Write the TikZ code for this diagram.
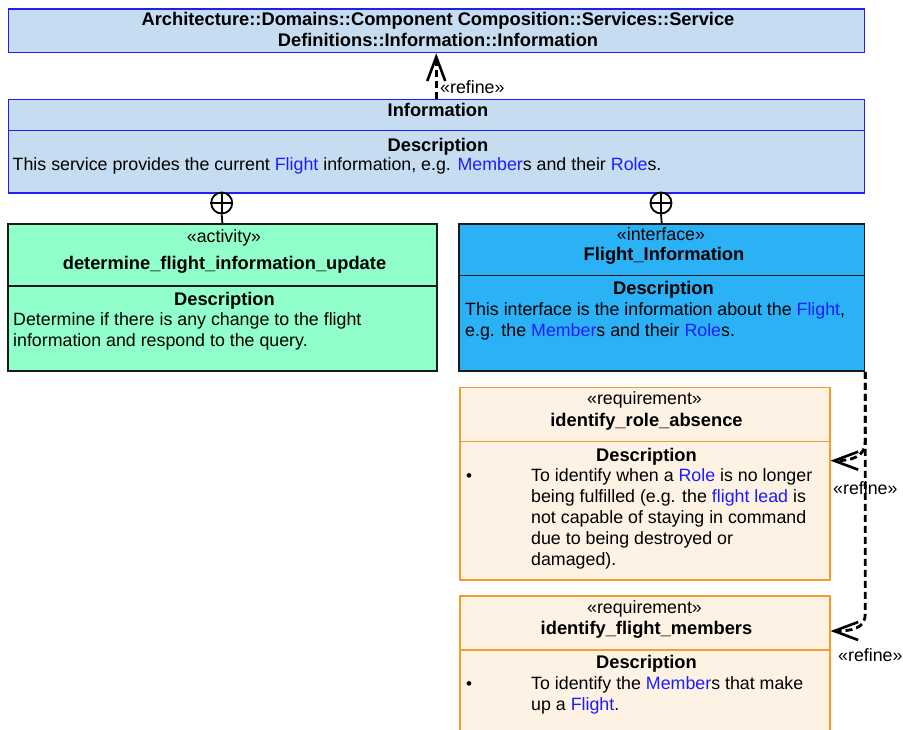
\documentclass[tikz,border=0pt]{standalone}
\usepackage{fontspec}
\setmainfont{Liberation Sans}
\usetikzlibrary{arrows.meta}

\definecolor{pkgfill}{HTML}{C6DDF1}
\definecolor{pkgline}{HTML}{1E1EF5}
\definecolor{actfill}{HTML}{90FFC9}
\definecolor{ifcfill}{HTML}{2BB1F6}
\definecolor{reqfill}{HTML}{FDF2E3}
\definecolor{reqline}{HTML}{F29E2E}
\definecolor{umlline}{HTML}{1A1A1A}
\definecolor{umllink}{HTML}{1C1CFF}

\newcommand{\lnk}[1]{\textcolor{umllink}{#1}}

\tikzset{
  umlbox/.style={draw, line width=1.5pt, inner sep=0, anchor=north west},
  pkgbox/.style={umlbox, draw=pkgline, fill=pkgfill},
  actbox/.style={umlbox, draw=umlline, fill=actfill},
  ifcbox/.style={umlbox, draw=umlline, fill=ifcfill},
  reqbox/.style={umlbox, draw=reqline, fill=reqfill},
  stereo/.style={anchor=base, inner sep=0, font=\fontsize{17.8}{21}\selectfont},
  boxtitle/.style={anchor=base, inner sep=0, font=\fontsize{18.3}{21}\selectfont\bfseries},
  boxtext/.style={anchor=north west, align=left, inner sep=0, font=\fontsize{17.8}{21}\selectfont},
  bullet/.style={inner sep=0, font=\fontsize{17}{17}\selectfont},
  refine/.style={line width=2.8pt, dash pattern=on 7pt off 4pt,
    -{Straight Barb[length=24pt, width=18pt, line width=2.6pt]}},
  nest/.style={circle, draw, line width=1.8pt, minimum size=21pt, inner sep=0},
}

\begin{document}
\begin{tikzpicture}[x=1pt, y=-1pt]
\useasboundingbox (0,0) rectangle (903,729);

% owning package
\node[pkgbox, minimum width=856pt, minimum height=43.5pt] (svc) at (7.5,8.3) {};
\node[boxtitle] (svcA) at (438,25) {Architecture::Domains::Component Composition::Services::Service};
\node[boxtitle] (svcB) at (438,46) {Definitions::Information::Information};

% service
\node[pkgbox, minimum width=856pt, minimum height=93.3pt] (info) at (7.5,98.7) {};
\draw[pkgline, line width=1.5pt] ([yshift=-32pt]info.north west) -- ([yshift=-32pt]info.north east);
\node[boxtitle] (infoName) at (438,116) {Information};
\node[boxtitle] (infoDesc) at (438,151) {Description};
\node[boxtext] (infoText) at (12.5,157)
  {This service provides the current \lnk{Flight} information, e.g. \lnk{Member}s and their \lnk{Role}s.};

% activity
\node[actbox, minimum width=428.7pt, minimum height=147pt] (act) at (7.3,223.3) {};
\draw[umlline, line width=1.5pt] ([yshift=-62.7pt]act.north west) -- ([yshift=-62.7pt]act.north east);
\node[stereo] (actType) at (224,242.3) {«activity»};
\node[boxtitle] (actName) at (224.5,269) {determine\_flight\_information\_update};
\node[boxtitle] (actDesc) at (224.5,305.7) {Description};
\node[boxtext] (actText) at (13,312.7)
  {Determine if there is any change to the flight\\information and respond to the query.};

% interface
\node[ifcbox, minimum width=405.4pt, minimum height=147pt] (ifc) at (458.3,223.3) {};
\draw[umlline, line width=1.5pt] ([yshift=-52.4pt]ifc.north west) -- ([yshift=-52.4pt]ifc.north east);
\node[stereo] (ifcType) at (661,240) {«interface»};
\node[boxtitle] (ifcName) at (664,260.7) {Flight\_Information};
\node[boxtitle] (ifcDesc) at (663.5,294.3) {Description};
\node[boxtext] (ifcText) at (465,302)
  {This interface is the information about the \lnk{Flight},\\e.g. the \lnk{Member}s and their \lnk{Role}s.};

% requirements
\node[reqbox, minimum width=370pt, minimum height=192.3pt] (reqA) at (459,386.7) {};
\draw[reqline, line width=1.5pt] ([yshift=-55pt]reqA.north west) -- ([yshift=-55pt]reqA.north east);
\node[stereo] (reqAType) at (644.5,404) {«requirement»};
\node[boxtitle] (reqAName) at (646.5,426.7) {identify\_role\_absence};
\node[boxtitle] (reqADesc) at (646.5,461) {Description};
\node[bullet] (reqADot) at (469,478) {•};
\node[boxtext] (reqAText) at (531,468)
  {To identify when a \lnk{Role} is no longer\\being fulfilled (e.g. the \lnk{flight lead} is\\not capable of staying in command\\due to being destroyed or\\damaged).};

\node[reqbox, minimum width=370pt, minimum height=150pt] (reqB) at (459,595) {};
\draw[reqline, line width=1.5pt] ([yshift=-55pt]reqB.north west) -- ([yshift=-55pt]reqB.north east);
\node[stereo] (reqBType) at (644.5,613.3) {«requirement»};
\node[boxtitle] (reqBName) at (646.5,634.3) {identify\_flight\_members};
\node[boxtitle] (reqBDesc) at (646.5,668.3) {Description};
\node[bullet] (reqBDot) at (469,686) {•};
\node[boxtext] (reqBText) at (531,676.3)
  {To identify the \lnk{Member}s that make\\up a \lnk{Flight}.};

% nesting connectors
\node[nest] (nestA) at (221.7,203) {};
\draw[line width=1.8pt] (nestA.north) -- (nestA.south) (nestA.west) -- (nestA.east);
\draw[line width=1.8pt] (nestA.south) -- (act.north);
\node[nest] (nestB) at (661,203) {};
\draw[line width=1.8pt] (nestB.north) -- (nestB.south) (nestB.west) -- (nestB.east);
\draw[line width=1.8pt] (nestB.south) -- (ifc.north);

% refine dependencies
\draw[refine] (info.north) -- (svc.south);
\node[stereo, anchor=base west] (refA) at (440,93) {«refine»};
\draw[refine] (ifc.south east) -- ++(0,70) .. controls +(0,15) and +(21,0) .. ([yshift=-74pt]reqA.north east);
\draw[refine] (ifc.south east) -- ++(0,242) .. controls +(0,15) and +(21,0) .. ([yshift=-36pt]reqB.north east);
\node[stereo, anchor=base west] (refB) at (833,494) {«refine»};
\node[stereo, anchor=base west] (refC) at (838,661) {«refine»};
\end{tikzpicture}
\end{document}
